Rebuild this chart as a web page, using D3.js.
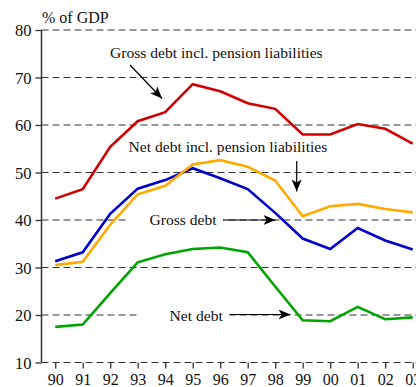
<!DOCTYPE html>
<html><head><meta charset="utf-8">
<script src="https://cdn.jsdelivr.net/npm/d3@7"></script>
<style>body{margin:0;background:#fff}svg{display:block}</style>
</head><body>
<script>
const years = ["90","91","92","93","94","95","96","97","98","99","00","01","02","03"];
const grossPension = [44.5,46.5,55.4,60.8,62.7,68.6,67.1,64.6,63.4,58.0,58.0,60.2,59.2,56.1];
const netPension   = [30.5,31.2,39.0,45.4,47.2,51.7,52.6,51.2,48.3,40.8,42.9,43.4,42.3,41.6];
const grossDebt    = [31.3,33.2,41.3,46.6,48.4,50.9,48.8,46.5,41.5,36.1,33.9,38.3,35.7,33.8];
const netDebt      = [17.5,18.0,24.6,31.1,32.8,33.9,34.2,33.2,26.0,18.9,18.7,21.7,19.1,19.5];
const yTicks = [10,20,30,40,50,60,70,80];

const W = 416, H = 387;
const svg = d3.select("body").append("svg").attr("width", W).attr("height", H);
const font = "'Liberation Serif','Times New Roman',serif";
const fs = 15.6;

const x = d3.scalePoint().domain(years).range([55.2, 412.7]);
const y = d3.scaleLinear().domain([10, 80]).range([362.5, 30]);
const axisX = 41.5;

// gridlines (dashed)
svg.append("g").selectAll("line").data(yTicks).join("line")
  .attr("x1", axisX).attr("x2", W)
  .attr("y1", d => y(d)).attr("y2", d => y(d))
  .attr("stroke", "#333").attr("stroke-width", 1.2)
  .attr("stroke-dasharray", "7,4");

// y axis
const ya = svg.append("g").attr("transform", `translate(${axisX},0)`)
  .call(d3.axisLeft(y).tickValues(yTicks).tickSize(6).tickPadding(4));
ya.select(".domain").attr("stroke", "#333").attr("stroke-width", 1.5).attr("d", `M-0,${y(80)}V${y(10)}`);
ya.selectAll(".tick line").attr("stroke", "#333").attr("stroke-width", 1.3);
ya.selectAll("text").attr("font-family", font).attr("font-size", 16.5).attr("fill", "#111").attr("dy", "0.35em");

// x axis
const xa = svg.append("g").attr("transform", `translate(0,${y(10)})`)
  .call(d3.axisBottom(x).tickSize(6).tickPadding(5.5));
xa.select(".domain").remove();
xa.selectAll(".tick line").attr("stroke", "#333").attr("stroke-width", 1.3);
xa.selectAll("text").attr("font-family", font).attr("font-size", 16).attr("fill", "#111");

svg.append("text").attr("x", 42).attr("y", 22.5).attr("font-family", font)
  .attr("font-size", 16).attr("fill", "#111").text("% of GDP");

// lines
const line = d3.line().x((d, i) => x(years[i])).y(d => y(d));
const series = [
  {v: netDebt, c: "#00a400"},
  {v: grossDebt, c: "#0000cc"},
  {v: netPension, c: "#ffaa00"},
  {v: grossPension, c: "#d00000"}
];
svg.append("g").selectAll("path").data(series).join("path")
  .attr("d", d => line(d.v)).attr("fill", "none")
  .attr("stroke", d => d.c).attr("stroke-width", 2.6).attr("stroke-linejoin", "miter");

// annotations
const defs = svg.append("defs");
defs.append("marker").attr("id", "ah").attr("viewBox", "0 0 12 10")
  .attr("refX", 12).attr("refY", 5).attr("markerWidth", 12).attr("markerHeight", 10)
  .attr("markerUnits", "userSpaceOnUse").attr("orient", "auto")
  .append("path").attr("d", "M0,0 L12,5 L0,10 L3,5 Z").attr("fill", "#000");

const labels = [
  {t: "Gross debt incl. pension liabilities", x: 110, y: 57.5, a: [[130, 65], [162, 98.5]], bg: null},
  {t: "Net debt incl. pension liabilities", x: 128.5, y: 151.5, a: [[296.7, 161], [296.7, 191.5]], bg: null},
  {t: "Gross debt", x: 149.5, y: 225, a: [[223, 220], [275.5, 220]], bg: [128, 223]},
  {t: "Net debt", x: 169.5, y: 320.5, a: [[229.5, 314.5], [290.5, 314.5]], bg: [140, 229.5]}
];
const lg = svg.append("g");
labels.forEach(l => {
  if (l.bg) {
    lg.append("rect").attr("x", l.bg[0]).attr("width", l.bg[1] - l.bg[0])
      .attr("y", l.y - 14).attr("height", 18).attr("fill", "#fff");
  }
  lg.append("text").attr("x", l.x).attr("y", l.y).attr("font-family", font)
    .attr("font-size", fs).attr("fill", "#111").text(l.t);
  lg.append("line").attr("x1", l.a[0][0]).attr("y1", l.a[0][1])
    .attr("x2", l.a[1][0]).attr("y2", l.a[1][1])
    .attr("stroke", "#000").attr("stroke-width", 1.2).attr("marker-end", "url(#ah)");
});
</script>
</body></html>
